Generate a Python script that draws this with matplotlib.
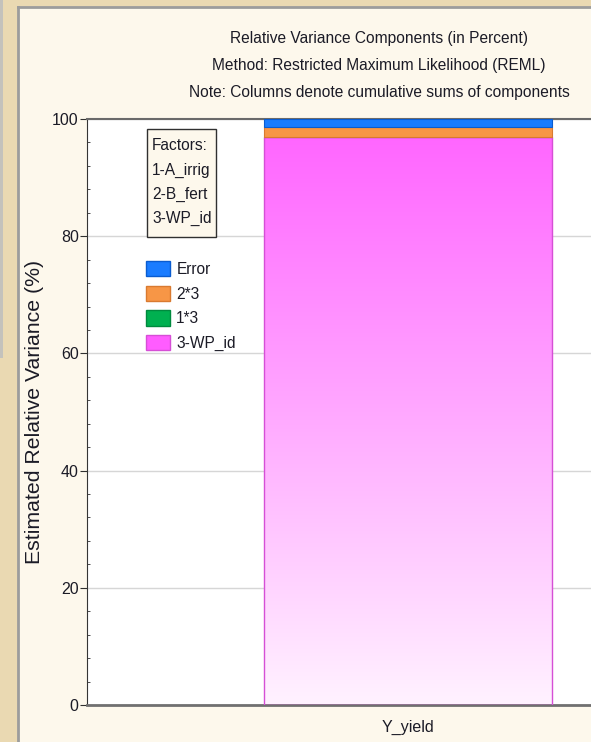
import matplotlib
matplotlib.use("Agg")
import matplotlib.pyplot as plt
import numpy as np
from matplotlib.patches import Patch, Rectangle
from matplotlib.colors import LinearSegmentedColormap

plt.rcParams["font.family"] = ["Liberation Sans", "DejaVu Sans"]

# data
components = ["3-WP_id", "1*3", "2*3", "Error"]  # stacking order, bottom to top
percents = [97.0, 0.0, 1.7, 1.3]
colors = ["#ff5cff", "#00b050", "#f79646", "#1a7cff"]
edges = ["#d64fd6", "#008a3e", "#d97a30", "#0a5cd0"]
variable = ["Y_yield"]
factors = ["1-A_irrig", "2-B_fert", "3-WP_id"]
title_lines = [
    "Relative Variance Components (in Percent)",
    "Method: Restricted Maximum Likelihood (REML)",
    "Note: Columns denote cumulative sums of components",
]

W, H = 591, 742
txt = "#1b1b26"


def fx(x):
    return x / W


def fy(y):
    return 1 - y / H


fig = plt.figure(figsize=(W / 100, H / 100), dpi=100)
fig.set_facecolor("#ead9b2")

# cream panel with grey border, like the window of the source app
fig.patches.append(Rectangle((fx(18), 0), 1, fy(8), transform=fig.transFigure,
                             fc="#fdf8ec", ec="none", zorder=-3))
fig.lines.append(plt.Line2D([fx(18), fx(18)], [0, fy(7)], transform=fig.transFigure,
                            color="#9c9c9c", lw=2, zorder=-2))
fig.lines.append(plt.Line2D([fx(18), 1], [fy(7), fy(7)], transform=fig.transFigure,
                            color="#9c9c9c", lw=2, zorder=-2))
fig.patches.append(Rectangle((0, fy(358)), fx(3), 1, transform=fig.transFigure,
                             fc="#c4c2bc", ec="none", zorder=-2))

ax = fig.add_axes([fx(87), 37 / H, 642 / W, 586 / H])
ax.set_facecolor("white")
ax.set_axisbelow(True)

x = np.arange(len(variable))
bottom = 0.0
bars = []
for name, val, c, e in zip(components, percents, colors, edges):
    if name == "3-WP_id":
        b = ax.bar(x, val, width=0.45, bottom=bottom, facecolor="none",
                   edgecolor=e, lw=1, zorder=3)
    else:
        b = ax.bar(x, val, width=0.45, bottom=bottom, color=c,
                   edgecolor=e, lw=0.8, zorder=3)
    bars.append(b)
    bottom += val

# vertical gradient on the main component
rect = bars[0].patches[0]
cmap = LinearSegmentedColormap.from_list("pinkfade", ["#fff2ff", "#ffaaff", "#ff66ff"])
grad = np.linspace(0, 1, 256).reshape(-1, 1)
x0 = rect.get_x()
im = ax.imshow(grad, cmap=cmap, origin="lower", aspect="auto",
               extent=[x0, x0 + rect.get_width(), 0, percents[0]], zorder=2)
im.set_clip_path(rect)
ax.set_xlim(-0.5, 0.5)
ax.set_ylim(0, 100)

ax.yaxis.grid(True, color="#d6d6d6", lw=1)
ax.set_yticks(np.arange(0, 101, 20))
ax.set_yticks(np.arange(0, 101, 4), minor=True)
ax.tick_params(axis="y", which="major", direction="out", length=5, pad=1,
               labelsize=11.5, labelcolor=txt, color="#303030")
ax.tick_params(axis="y", which="minor", direction="in", length=2, color="#303030")
ax.set_xticks(x)
ax.set_xticklabels(variable)
ax.tick_params(axis="x", direction="in", length=4, pad=11, labelsize=11.5,
               labelcolor=txt, top=True, color="#303030")

ax.spines["left"].set_color("#353535")
ax.spines["bottom"].set_color("#707070")
ax.spines["bottom"].set_linewidth(2)
ax.spines["top"].set_color("#6a6a6a")
ax.spines["top"].set_linewidth(1.5)
ax.spines["right"].set_visible(False)

ax.set_ylabel("Estimated Relative Variance (%)", fontsize=15.3, color=txt, va="center")
ax.yaxis.set_label_coords((35 - 87) / 642, 0.5)

for i, line in enumerate(title_lines):
    fig.text(fx(379), fy(38 + 27.5 * i), line, ha="center", va="center",
             fontsize=11.2, color=txt)

# factors box
fig.patches.append(Rectangle((fx(147), fy(237)), (216 - 147) / W, (237 - 129) / H,
                             transform=fig.transFigure, fc="#fdf8ec", ec="#303030",
                             lw=1, zorder=5))
for i, line in enumerate(["Factors:"] + factors):
    fig.text(fx(152), fy(146 + 24 * i), line, ha="left", va="center",
             fontsize=11.2, color=txt, zorder=6)

handles = [Patch(facecolor=c, edgecolor=e, label=n)
           for n, c, e in zip(components, colors, edges)][::-1]
ax.legend(handles=handles, loc="upper left", bbox_to_anchor=(fx(146), fy(261)),
          bbox_transform=fig.transFigure, frameon=False, fontsize=11.2,
          handlelength=1.55, handleheight=1.15, labelspacing=0.55,
          handletextpad=0.4, borderpad=0, borderaxespad=0, labelcolor=txt)

fig.savefig("out.png", dpi=100, facecolor=fig.get_facecolor())
